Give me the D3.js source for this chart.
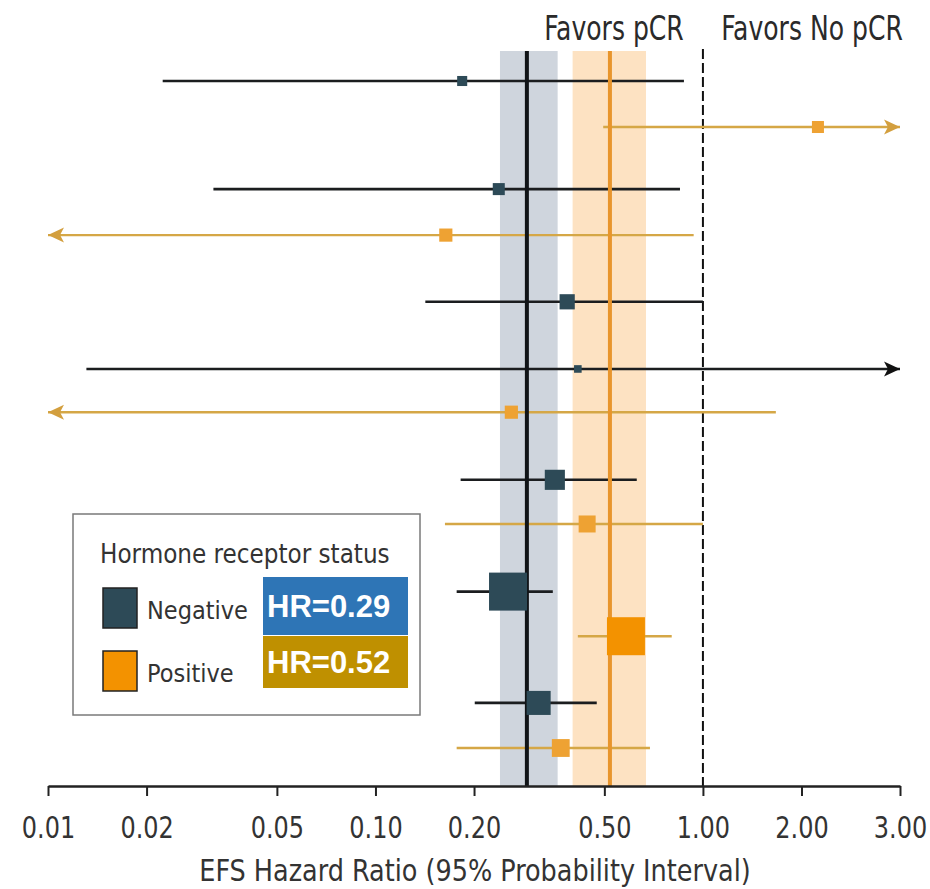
<!DOCTYPE html>
<html>
<head>
<meta charset="utf-8">
<script src="https://cdn.jsdelivr.net/npm/d3@7"></script>
<style>
  html, body { margin: 0; padding: 0; background: #fff; }
  svg { display: block; }
  .cond { font-family: 'Liberation Sans Narrow', 'DejaVu Sans Condensed', 'Arial Narrow', sans-serif; }
</style>
</head>
<body>
<svg id="chart" width="930" height="889"></svg>
<script>
// Subgroup event-free survival hazard ratios by hormone receptor status.
// A null bound means the interval runs past the edge of the axis.
const status     = ["Negative", "Positive", "Negative", "Positive", "Negative", "Negative", "Positive",
                    "Negative", "Positive", "Negative", "Positive", "Negative", "Positive"];
const hazardRatio = [0.184, 2.14, 0.238, 0.164, 0.385, 0.415, 0.26, 0.353, 0.443, 0.254, 0.582, 0.315, 0.368];
const lowerBound  = [0.0224, 0.496, 0.032, null, 0.142, 0.0131, null, 0.182, 0.163, 0.177, 0.415, 0.201, 0.177];
const upperBound  = [0.875, null, 0.851, 0.937, 1.00, null, 1.67, 0.628, 1.00, 0.348, 0.803, 0.474, 0.689];
const rowSlot     = [0, 1, 2.35, 3.35, 4.8, 6.26, 7.2, 8.67, 9.63, 11.1, 12.07, 13.52, 14.5];
const weight      = [7, 10, 10, 12, 16, 4, 12, 28, 20, 100, 100, 40, 22];

// Pooled estimates per status
const groups          = ["Negative", "Positive"];
const pooledHR        = [0.29, 0.52];
const pooledLow       = [0.24, 0.40];
const pooledHigh      = [0.36, 0.67];
const pooledLabels    = ["HR=0.29", "HR=0.52"];

const tickValues = [0.01, 0.02, 0.05, 0.1, 0.2, 0.5, 1, 2, 3];
const axisTitle  = "EFS Hazard Ratio (95% Probability Interval)";

const lineColor   = { Negative: "#1b1d1f", Positive: "#d5a746" };
const markColor   = { Negative: "#2d4a57", Positive: "#eea233" };
const bandColor   = { Negative: "#cfd5dd", Positive: "#fde2c2" };
const pooledColor = { Negative: "#111417", Positive: "#e8952c" };
const boxColor    = { Negative: "#2e75b6", Positive: "#bf9000" };

const svg = d3.select("#chart");

const x = d3.scaleLog().domain([0.01, 2, 3]).range([48, 801.5, 900]);
const y = d3.scaleLinear().domain([0, 14.5]).range([81, 748]);
const side = d3.scaleSqrt().domain([0, 100]).range([0, 38]);

const plotTop = 51, axisY = 786;
const rows = hazardRatio.map((hr, i) => ({
  status: status[i], hr, lo: lowerBound[i], hi: upperBound[i], slot: rowSlot[i], w: weight[i]
}));
const xMin = x.domain()[0], xMax = x.domain()[x.domain().length - 1];

// narrow text helper: draws text squeezed horizontally around its anchor point
function narrowText(parent, tx, ty, str, size, squeeze, anchor) {
  return parent.append("text").attr("class", "cond")
    .attr("transform", `translate(${tx},${ty}) scale(${squeeze},1)`)
    .attr("text-anchor", anchor || "middle")
    .style("font-size", size + "px")
    .text(str);
}

// pooled probability bands
svg.append("g").selectAll("rect").data(groups).join("rect")
  .attr("x", (g, i) => x(pooledLow[i]))
  .attr("width", (g, i) => x(pooledHigh[i]) - x(pooledLow[i]))
  .attr("y", plotTop).attr("height", axisY - plotTop)
  .attr("fill", g => bandColor[g]);

// null line at HR = 1
svg.append("line")
  .attr("x1", x(1)).attr("x2", x(1))
  .attr("y1", plotTop - 2).attr("y2", axisY)
  .attr("stroke", "#111").attr("stroke-width", 2)
  .attr("stroke-dasharray", "10,4");

// interval lines
const ci = svg.append("g");
ci.selectAll("line").data(rows).join("line")
  .attr("x1", d => x(d.lo == null ? xMin : d.lo))
  .attr("x2", d => x(d.hi == null ? xMax : d.hi))
  .attr("y1", d => y(d.slot)).attr("y2", d => y(d.slot))
  .attr("stroke", d => lineColor[d.status])
  .attr("stroke-width", d => d.status === "Negative" ? 2.6 : 2.4);

// arrowheads for intervals beyond the axis
const arrows = [];
rows.forEach(d => {
  if (d.lo == null) arrows.push({ d, dir: -1, at: xMin });
  if (d.hi == null) arrows.push({ d, dir: 1, at: xMax });
});
ci.selectAll("path").data(arrows).join("path")
  .attr("d", a => {
    const tx = x(a.at), cy = y(a.d.slot), L = 16, H = 7.5;
    return `M${tx},${cy} L${tx - a.dir * L},${cy - H} L${tx - a.dir * L * 0.75},${cy} L${tx - a.dir * L},${cy + H} Z`;
  })
  .attr("fill", a => a.d.status === "Negative" ? "#111" : "#d39f3e");

// pooled hazard ratio lines
svg.append("g").selectAll("line").data(groups).join("line")
  .attr("x1", (g, i) => x(pooledHR[i])).attr("x2", (g, i) => x(pooledHR[i]))
  .attr("y1", plotTop).attr("y2", axisY)
  .attr("stroke", g => pooledColor[g]).attr("stroke-width", 4);

// subgroup point estimates
svg.append("g").selectAll("rect").data(rows).join("rect")
  .attr("x", d => x(d.hr) - side(d.w) / 2)
  .attr("y", d => y(d.slot) - side(d.w) / 2)
  .attr("width", d => side(d.w)).attr("height", d => side(d.w))
  .attr("fill", d => d.status === "Positive" && d.w >= 100 ? "#f39200" : markColor[d.status]);

// x axis
const axis = d3.axisBottom(x)
  .tickValues(tickValues)
  .tickFormat(d3.format(".2f"))
  .tickSize(10).tickSizeOuter(0);
const gAxis = svg.append("g").attr("transform", `translate(0,${axisY})`).call(axis);
gAxis.select(".domain").attr("stroke", "#222").attr("stroke-width", 2.5);
gAxis.selectAll(".tick line").attr("stroke", "#222").attr("stroke-width", 2);
gAxis.selectAll(".tick text")
  .attr("class", "cond").attr("fill", "#333")
  .attr("y", 0).attr("dy", null)
  .attr("transform", "translate(0,52) scale(0.86,1)")
  .style("font-size", "31px");

narrowText(svg, 475, 881, axisTitle, 31, 0.915).attr("fill", "#333");

// direction headers
narrowText(svg, 614, 40, "Favors pCR", 34, 0.82).attr("fill", "#2a2a2a");
narrowText(svg, 812, 40, "Favors No pCR", 34, 0.82).attr("fill", "#2a2a2a");

// legend
const lg = svg.append("g");
lg.append("rect")
  .attr("x", 73).attr("y", 514).attr("width", 347).attr("height", 201)
  .attr("fill", "#fff").attr("stroke", "#7a7a7a").attr("stroke-width", 1.5);
narrowText(lg, 100, 563, "Hormone receptor status", 26, 0.99, "start").attr("fill", "#333");

const entryY = [608, 671];
const entries = lg.selectAll("g.entry").data(groups).join("g").attr("class", "entry");
entries.append("rect")
  .attr("x", 103).attr("y", (g, i) => entryY[i] - 20)
  .attr("width", 34).attr("height", 40)
  .attr("fill", g => g === "Negative" ? markColor.Negative : "#f39200")
  .attr("stroke", "#222").attr("stroke-width", 1.5);
entries.append("text").attr("class", "cond")
  .attr("x", 147).attr("y", (g, i) => entryY[i] + 11)
  .attr("fill", "#333").style("font-size", "25px")
  .text(g => g);

// pooled hazard ratio callouts
const boxTop = [577, 636], boxH = [58, 52];
const callouts = svg.append("g").selectAll("g").data(groups).join("g");
callouts.append("rect")
  .attr("x", 263).attr("y", (g, i) => boxTop[i])
  .attr("width", 145).attr("height", (g, i) => boxH[i])
  .attr("fill", g => boxColor[g]);
callouts.append("text")
  .attr("x", 267).attr("y", (g, i) => boxTop[i] + boxH[i] / 2 + 11)
  .attr("fill", "#fff")
  .style("font-family", "'Liberation Sans', Arial, sans-serif")
  .style("font-weight", "bold").style("font-size", "31px")
  .text((g, i) => pooledLabels[i]);
</script>
</body>
</html>
